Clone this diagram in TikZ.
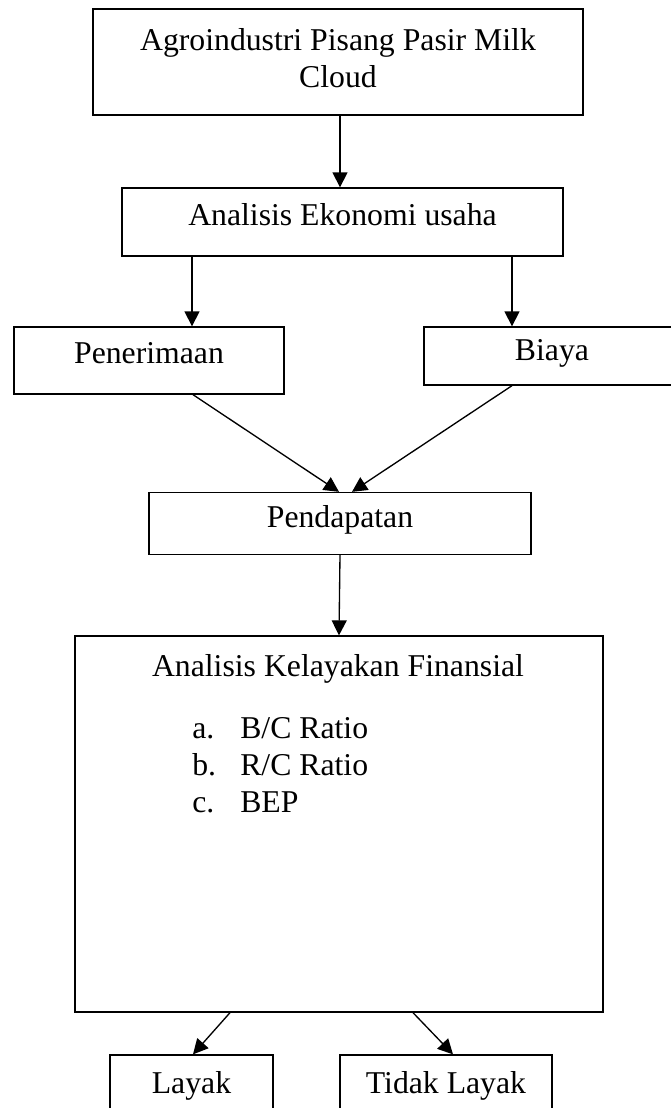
\documentclass[tikz,border=0pt]{standalone}
\usepackage{fontspec}
\setmainfont{Liberation Serif}
\usetikzlibrary{arrows.meta}
\usetikzlibrary{calc}

\newdimen\pxu
\pxu=0.75pt

\tikzset{
  box/.style={draw, line width=1pt, inner sep=0pt, align=center},
  onebox/.style={box, text height=0.7em, text depth=0.25em},
  arr/.style={-{Triangle[length=11.25pt,width=11.25pt]}, line width=1pt},
}

\begin{document}
\begin{tikzpicture}[x=\pxu, y=-\pxu, font=\fontsize{23.8pt}{27.75pt}\selectfont]
            \path[use as bounding box, fill=white] (0,0) rectangle (671,1108);
            \clip (0,0) rectangle (671,1108);
            \node[box, minimum width=490\pxu, minimum height=106\pxu, text depth=9\pxu] (agro) at (338,62) {Agroindustri Pisang Pasir Milk\\Cloud};
            \node[onebox, minimum width=441\pxu, minimum height=68\pxu] (eko) at (342.5,222) {Analisis Ekonomi usaha};
            \node[onebox, minimum width=270\pxu, minimum height=67\pxu] (terima) at (149,360.5) {Penerimaan};
            \node[onebox, minimum width=256\pxu, minimum height=58\pxu, text depth=0pt] (biaya) at (552,356) {Biaya};
            \node[onebox, minimum width=382\pxu, minimum height=62\pxu, text depth=0.1em] (dapat) at (340,523.5) {Pendapatan};
            \node[box, minimum width=528\pxu, minimum height=376\pxu] (kelayakan) at (339,824) {};
            \node[anchor=base] (judul) at (338,676) {Analisis Kelayakan Finansial};
            \node[anchor=base west, inner sep=0pt] (la) at (192,738) {a.};
            \node[anchor=base west, inner sep=0pt] (lb) at (192,775) {b.};
            \node[anchor=base west, inner sep=0pt] (lc) at (192,812) {c.};
            \node[anchor=base west, inner sep=0pt] (bc) at (240,738) {B/C Ratio};
            \node[anchor=base west, inner sep=0pt] (rc) at (240,775) {R/C Ratio};
            \node[anchor=base west, inner sep=0pt] (bep) at (240,812) {BEP};
            \node[onebox, minimum width=163\pxu, minimum height=70\pxu] (layak) at (191.5,1090) {Layak};
            \node[onebox, minimum width=212\pxu, minimum height=70\pxu] (tidak) at (446,1090) {Tidak Layak};
            \draw[arr] ($(agro.south)+(2,0)$) coordinate (a0) -- (a0 |- eko.north);
            \draw[arr] ($(eko.south)+(-150.5,0)$) coordinate (a1) -- (a1 |- terima.north);
            \draw[arr] ($(eko.south)+(169.5,0)$) coordinate (a2) -- (a2 |- biaya.north);
            \draw[arr] ($(terima.south)+(44,0)$) -- ($(dapat.north)+(-1,0)$);
            \draw[arr] ($(biaya.south)+(-40,0)$) -- ($(dapat.north)+(12,0)$);
            \draw[arr] (dapat.south) -- (kelayakan.north);
            \draw[arr] ($(kelayakan.south)+(-109,0)$) -- ($(layak.north)+(1.5,0)$);
            \draw[arr] ($(kelayakan.south)+(74,0)$) -- ($(tidak.north)+(7,0)$);
        \end{tikzpicture}
\end{document}
